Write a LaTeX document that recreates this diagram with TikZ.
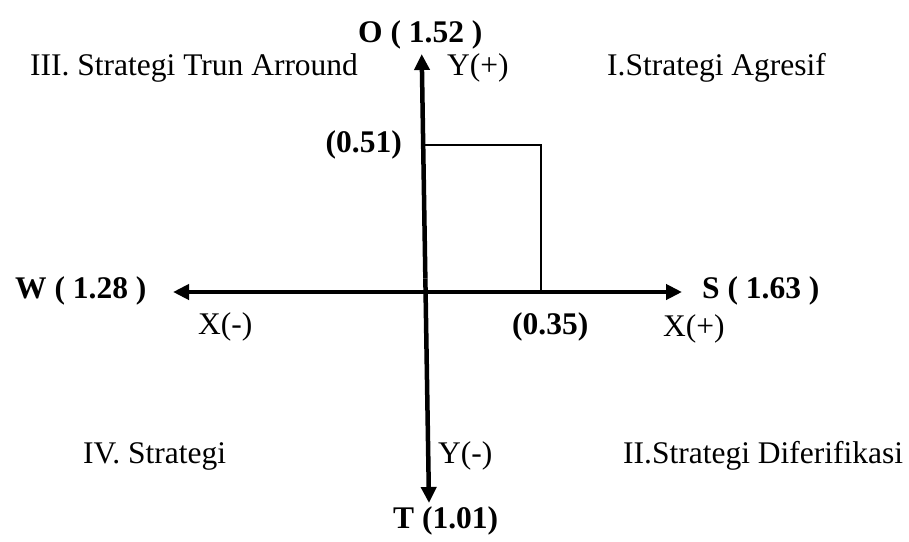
\documentclass[tikz,border=0pt]{standalone}
\usepackage{fontspec}
\setmainfont{Liberation Serif}
\usetikzlibrary{arrows.meta,calc}
\begin{document}
\begin{tikzpicture}[x=1pt,y=-1pt,
  lbl/.style={anchor=base west,inner sep=0pt,font=\fontsize{31.5}{36}\selectfont},
  blbl/.style={anchor=base west,inner sep=0pt,font=\fontsize{31.5}{36}\selectfont\bfseries},
  axisline/.style={line width=4.5pt},
  tip/.style={-{Triangle[length=16pt,width=15pt]}},
  dtip/.style={{Triangle[length=16pt,width=15pt]}-{Triangle[length=16pt,width=15pt]}},
  thinline/.style={line width=2pt}]
\useasboundingbox (0,0) rectangle (909,541);
% axis end points
\coordinate (top) at (421.7,54);
\coordinate (bot) at (429,503);
\coordinate (lft) at (173,292);
\coordinate (rgt) at (682,292);
\coordinate (cen) at ($(top)!0.5!(bot)$);
\coordinate (ax51) at (423.3,145);
\coordinate (corner) at (541,145);
\coordinate (ax35) at (541,292);
% axes
\draw[axisline,tip] (cen) -- (top);
\draw[axisline,tip] (cen) -- (bot);
\draw[axisline,dtip] (lft) -- (rgt);
% box lines
\draw[thinline] (ax51) -- (corner) -- (ax35);
% labels
\node[blbl] (O) at (358,42) {O ( 1.52 )};
\node[lbl] (q3) at (30,75) {III. Strategi Trun Arround};
\node[lbl] (yp) at (447,75) {Y(+)};
\node[lbl] (q1) at (607,75) {I.Strategi Agresif};
\node[blbl,anchor=base east] (v51) at (402,152) {(0.51)};
\node[blbl] (W) at (15,298) {W ( 1.28 )};
\node[blbl] (S) at (702,298) {S ( 1.63 )};
\node[lbl] (xm) at (198,334) {X(-)};
\node[blbl] (v35) at (512,334) {(0.35)};
\node[lbl] (xp) at (663,336) {X(+)};
\node[lbl] (q4) at (83,463) {IV. Strategi};
\node[lbl] (ym) at (438,463) {Y(-)};
\node[lbl] (q2) at (623,463) {II.Strategi Diferifikasi};
\node[blbl] (T) at (393,528) {T (1.01)};
\end{tikzpicture}
\end{document}
